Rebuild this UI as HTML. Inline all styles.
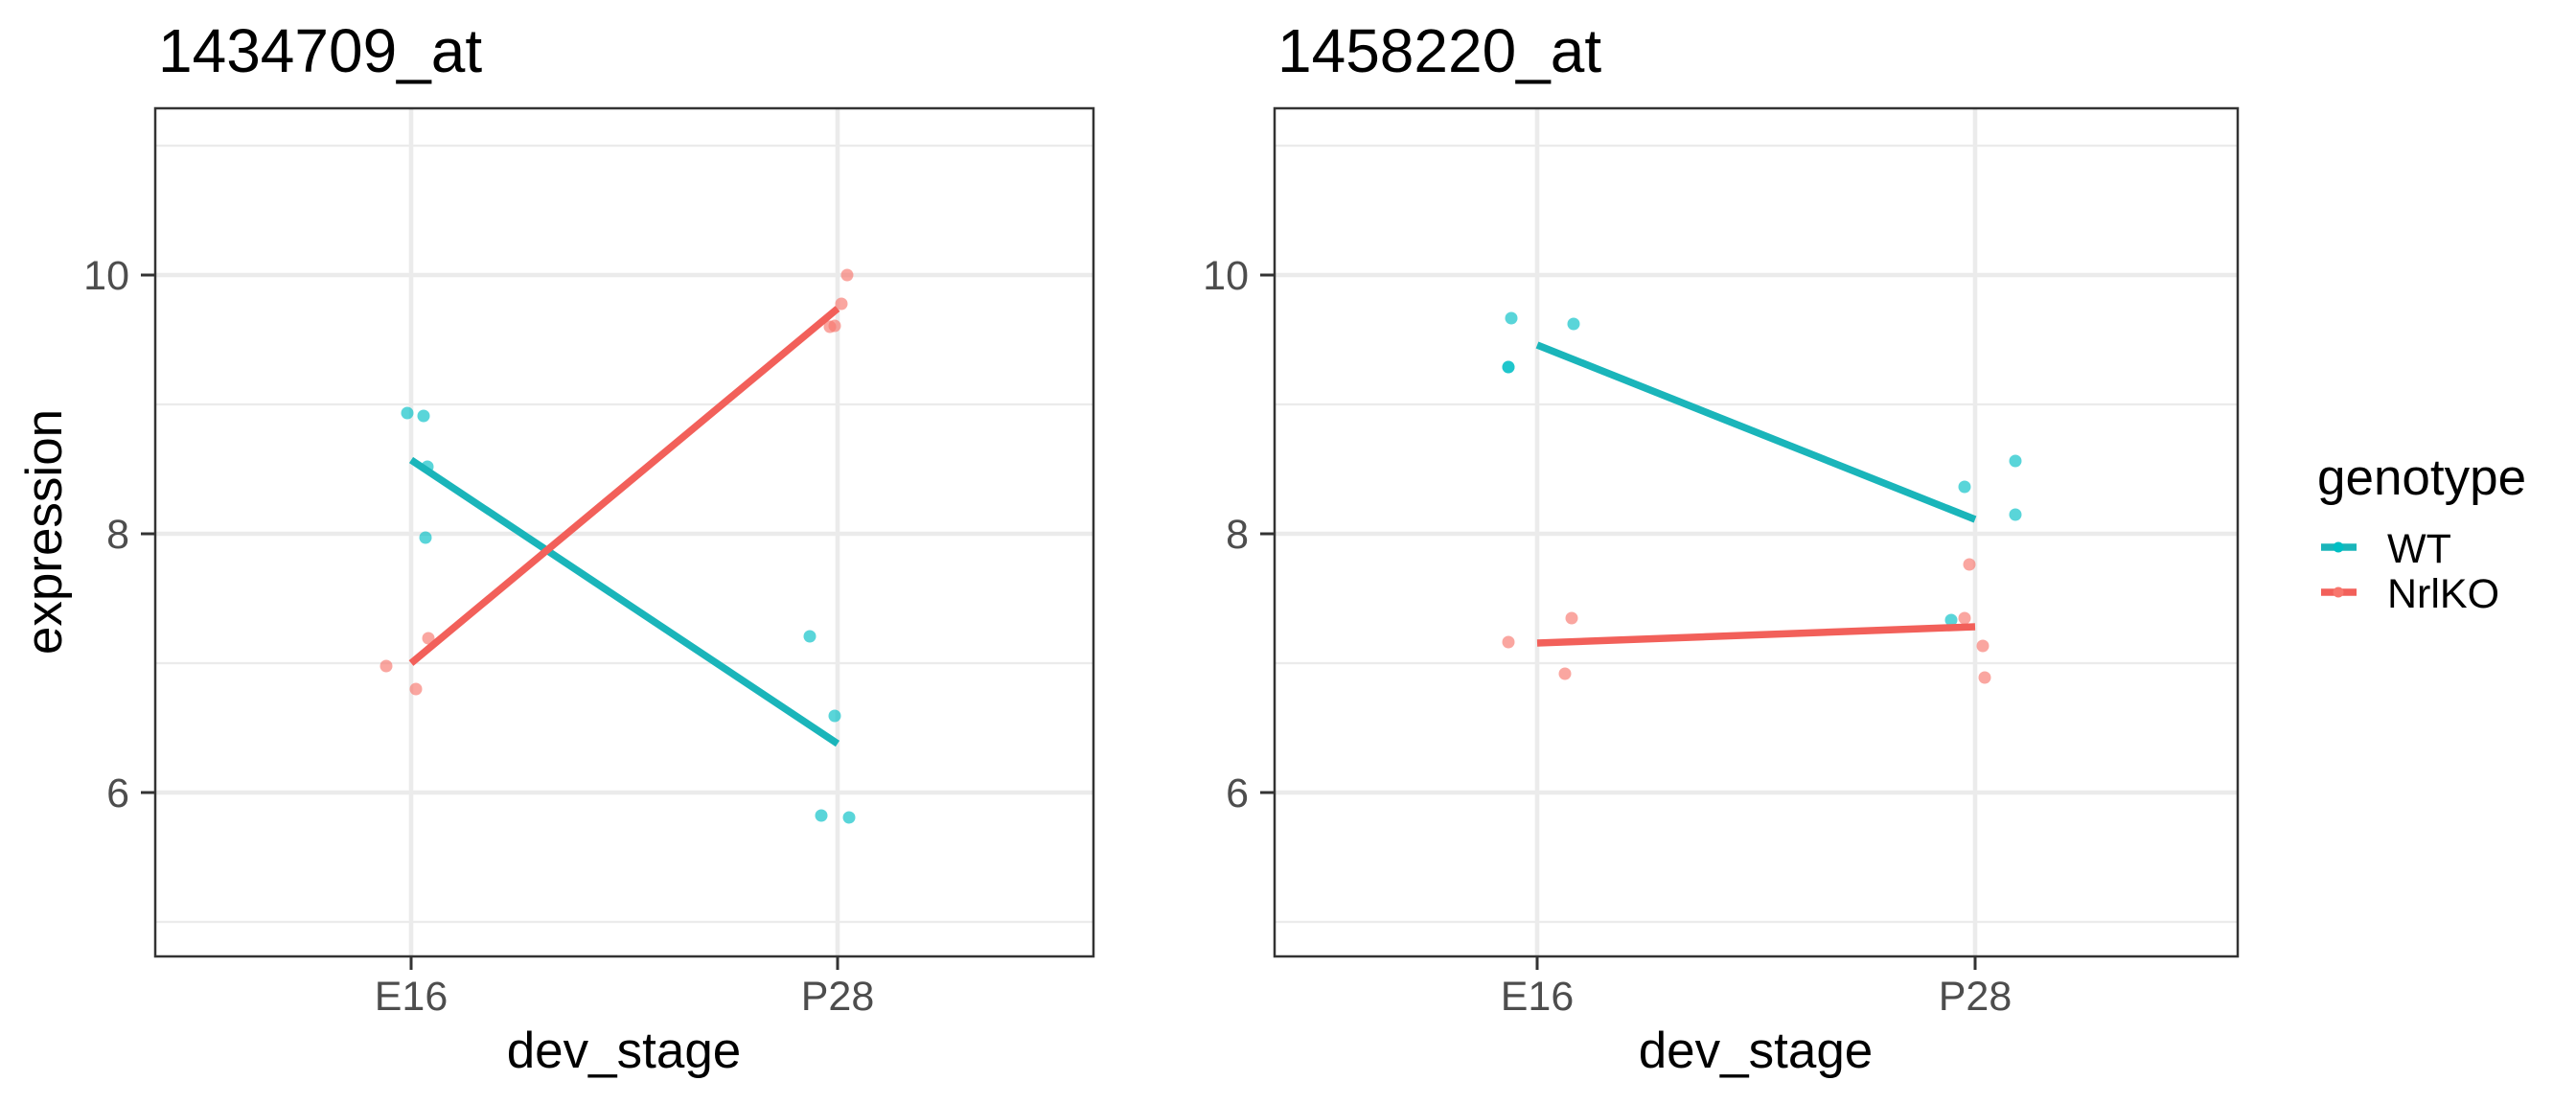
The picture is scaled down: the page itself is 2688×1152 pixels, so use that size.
<!DOCTYPE html>
<html><head><meta charset="utf-8"><style>
html,body{margin:0;padding:0;background:#fff;}
svg{display:block;font-family:"Liberation Sans",Arial,sans-serif;}
</style></head><body>
<svg width="2688" height="1152" viewBox="0 0 2688 1152" xmlns="http://www.w3.org/2000/svg">
<rect width="2688" height="1152" fill="#fff"/>

<!-- PANEL 1 -->
<g>
<g stroke="#EBEBEB" stroke-width="2.3">
<line x1="162" x2="1141" y1="152" y2="152"/>
<line x1="162" x2="1141" y1="422" y2="422"/>
<line x1="162" x2="1141" y1="692" y2="692"/>
<line x1="162" x2="1141" y1="962" y2="962"/>
</g>
<g stroke="#EBEBEB" stroke-width="4.6">
<line x1="162" x2="1141" y1="287" y2="287"/>
<line x1="162" x2="1141" y1="557" y2="557"/>
<line x1="162" x2="1141" y1="827" y2="827"/>
<line x1="429" x2="429" y1="113" y2="998"/>
<line x1="874" x2="874" y1="113" y2="998"/>
</g>
<g fill="#00BFC4" fill-opacity="0.65">
<circle cx="425" cy="431" r="6.5"/><circle cx="442" cy="434" r="6.5"/><circle cx="446" cy="487" r="6.5"/><circle cx="444" cy="561" r="6.5"/>
<circle cx="845" cy="664" r="6.5"/><circle cx="871" cy="747" r="6.5"/><circle cx="857" cy="851" r="6.5"/><circle cx="886" cy="853" r="6.5"/>
</g>
<g fill="#F8766D" fill-opacity="0.65">
<circle cx="403" cy="695" r="6.5"/><circle cx="434" cy="719" r="6.5"/><circle cx="447" cy="666" r="6.5"/>
<circle cx="884" cy="287" r="6.5"/><circle cx="878" cy="317" r="6.5"/><circle cx="866" cy="341" r="6.5"/><circle cx="871" cy="340" r="6.5"/>
</g>
<line x1="429" y1="480" x2="874" y2="776" stroke="#1AB5BA" stroke-width="7.5"/>
<line x1="429" y1="692" x2="874" y2="322" stroke="#F2605A" stroke-width="7.5"/>
<rect x="162" y="113" width="979" height="885" fill="none" stroke="#333" stroke-width="2.5"/>
<g stroke="#333" stroke-width="3">
<line x1="147" x2="162" y1="287" y2="287"/><line x1="147" x2="162" y1="557" y2="557"/><line x1="147" x2="162" y1="827" y2="827"/>
<line x1="429" x2="429" y1="998" y2="1012"/><line x1="874" x2="874" y1="998" y2="1012"/>
</g>
<g fill="#4D4D4D" font-size="43" text-anchor="end">
<text x="135" y="302">10</text><text x="135" y="572">8</text><text x="135" y="842">6</text>
</g>
<g fill="#4D4D4D" font-size="43" text-anchor="middle">
<text x="429" y="1054">E16</text><text x="874" y="1054">P28</text>
</g>
<text x="651" y="1114" font-size="53" text-anchor="middle" fill="#000">dev_stage</text>
<text x="165" y="75" font-size="64" fill="#000">1434709_at</text>
<text transform="translate(64,555) rotate(-90)" font-size="53" text-anchor="middle" fill="#000">expression</text>
</g>

<!-- PANEL 2 -->
<g>
<g stroke="#EBEBEB" stroke-width="2.3">
<line x1="1330" x2="2335" y1="152" y2="152"/>
<line x1="1330" x2="2335" y1="422" y2="422"/>
<line x1="1330" x2="2335" y1="692" y2="692"/>
<line x1="1330" x2="2335" y1="962" y2="962"/>
</g>
<g stroke="#EBEBEB" stroke-width="4.6">
<line x1="1330" x2="2335" y1="287" y2="287"/>
<line x1="1330" x2="2335" y1="557" y2="557"/>
<line x1="1330" x2="2335" y1="827" y2="827"/>
<line x1="1604" x2="1604" y1="113" y2="998"/>
<line x1="2061" x2="2061" y1="113" y2="998"/>
</g>
<g fill="#00BFC4" fill-opacity="0.65">
<circle cx="1577" cy="332" r="6.5"/><circle cx="1574" cy="383" r="6.5"/><circle cx="1574" cy="383" r="6.5"/><circle cx="1642" cy="338" r="6.5"/>
<circle cx="2050" cy="508" r="6.5"/><circle cx="2103" cy="481" r="6.5"/><circle cx="2103" cy="537" r="6.5"/><circle cx="2036" cy="647" r="6.5"/>
</g>
<g fill="#F8766D" fill-opacity="0.65">
<circle cx="1574" cy="670" r="6.5"/><circle cx="1640" cy="645" r="6.5"/><circle cx="1633" cy="703" r="6.5"/>
<circle cx="2055" cy="589" r="6.5"/><circle cx="2050" cy="645" r="6.5"/><circle cx="2069" cy="674" r="6.5"/><circle cx="2071" cy="707" r="6.5"/>
</g>
<line x1="1604" y1="360" x2="2061" y2="542" stroke="#1AB5BA" stroke-width="7.5"/>
<line x1="1604" y1="671" x2="2061" y2="654" stroke="#F2605A" stroke-width="7.5"/>
<rect x="1330" y="113" width="1005" height="885" fill="none" stroke="#333" stroke-width="2.5"/>
<g stroke="#333" stroke-width="3">
<line x1="1315" x2="1330" y1="287" y2="287"/><line x1="1315" x2="1330" y1="557" y2="557"/><line x1="1315" x2="1330" y1="827" y2="827"/>
<line x1="1604" x2="1604" y1="998" y2="1012"/><line x1="2061" x2="2061" y1="998" y2="1012"/>
</g>
<g fill="#4D4D4D" font-size="43" text-anchor="end">
<text x="1303" y="302">10</text><text x="1303" y="572">8</text><text x="1303" y="842">6</text>
</g>
<g fill="#4D4D4D" font-size="43" text-anchor="middle">
<text x="1604" y="1054">E16</text><text x="2061" y="1054">P28</text>
</g>
<text x="1832" y="1114" font-size="53" text-anchor="middle" fill="#000">dev_stage</text>
<text x="1333" y="75" font-size="64" fill="#000">1458220_at</text>
</g>

<!-- LEGEND -->
<text x="2418" y="516" font-size="53" fill="#000">genotype</text>
<line x1="2422" x2="2459" y1="571" y2="571" stroke="#1AB5BA" stroke-width="7.5"/>
<circle cx="2440" cy="571" r="5.5" fill="#00BFC4"/>
<line x1="2422" x2="2459" y1="618" y2="618" stroke="#F2605A" stroke-width="7.5"/>
<circle cx="2440" cy="618" r="5.5" fill="#F8766D"/>
<text x="2491" y="587" font-size="43" fill="#000">WT</text>
<text x="2491" y="634" font-size="43" fill="#000">NrlKO</text>
</svg>
</body></html>
